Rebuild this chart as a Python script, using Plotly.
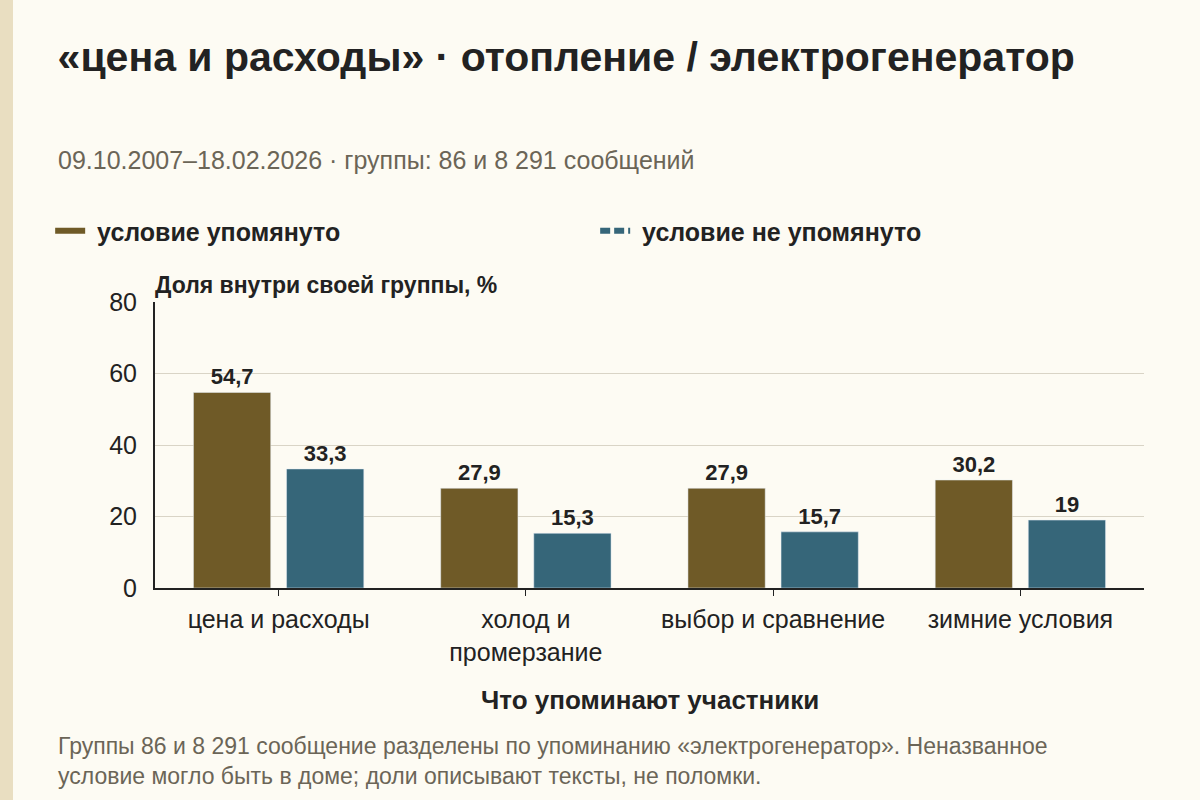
import plotly.graph_objects as go

# данные с графика
categories = ["цена и расходы", "холод и<br>промерзание", "выбор и сравнение", "зимние условия"]
mentioned = [54.7, 27.9, 27.9, 30.2]
not_mentioned = [33.3, 15.3, 15.7, 19.0]
series_names = ["условие упомянуто", "условие не упомянуто"]
y_ticks = [0, 20, 40, 60, 80]

GOLD = "#6f5a27"
BLUE = "#366679"
BG = "#fdfbf3"
DARK = "#222222"
GREY = "#6b6557"
FONT = "Liberation Sans, Arial, sans-serif"


def fmt(v):
    return ("%g" % v).replace(".", ",")


fig = go.Figure()

fig.add_trace(go.Bar(
    x=categories, y=mentioned, name=series_names[0], marker_color=GOLD,
    text=[fmt(v) for v in mentioned], textposition="outside",
    textfont=dict(size=22, color=DARK, family=FONT, weight="bold"),
    cliponaxis=False, showlegend=False
))
fig.add_trace(go.Bar(
    x=categories, y=not_mentioned, name=series_names[1], marker_color=BLUE,
    text=[fmt(v) for v in not_mentioned], textposition="outside",
    textfont=dict(size=22, color=DARK, family=FONT, weight="bold"),
    cliponaxis=False, showlegend=False
))

# legend entries drawn as short lines, like in the original
# (a leading nbsp gives the wider gap between sample and text)
fig.add_trace(go.Scatter(x=[None], y=[None], mode="lines", name="\u00a0" + series_names[0],
                         line=dict(color=GOLD, width=6)))
fig.add_trace(go.Scatter(x=[None], y=[None], mode="lines", name="\u00a0" + series_names[1],
                         line=dict(color=BLUE, width=6, dash="10px,4px")))

fig.update_layout(
    width=1200, height=800,
    paper_bgcolor=BG, plot_bgcolor=BG,
    font=dict(family=FONT, color=DARK, size=25),
    margin=dict(l=155, r=56, t=302, b=212),
    barmode="group", bargap=0.247, bargroupgap=0.17,
    title=dict(text="<b>«цена и расходы» · отопление / электрогенератор</b>",
               x=0.048, xanchor="left", y=1 - 57 / 800, yanchor="middle",
               font=dict(size=41, color=DARK, family=FONT)),
    legend=dict(orientation="h", x=-0.106, xanchor="left", y=1.248, yanchor="middle",
                entrywidth=500,
                font=dict(size=25, color=DARK, family=FONT, weight="bold"),
                bgcolor="rgba(0,0,0,0)"),
    separators=", ",
    showlegend=True,
)

fig.update_xaxes(showline=True, linecolor=DARK, linewidth=2,
                 ticks="outside", ticklen=6, tickcolor=DARK, tickwidth=1,
                 tickfont=dict(size=25, color=DARK), showgrid=False, ticklabelstandoff=2)
fig.update_yaxes(range=[0, 80], tickvals=y_ticks, showline=True, linecolor=DARK, linewidth=2,
                 gridcolor="#d9d4c6", gridwidth=1, zeroline=False,
                 tickfont=dict(size=25, color=DARK), ticks="", ticklabelstandoff=11)

# левая полоса
fig.add_shape(type="rect", xref="paper", yref="paper",
              x0=-155 / 989, x1=-142 / 989, y0=-212 / 286, y1=1 + 302 / 286,
              fillcolor="#e9dec1", line_width=0, layer="below")

fig.add_annotation(text="09.10.2007–18.02.2026 · группы: 86 и 8 291 сообщений",
                   xref="paper", yref="paper", x=-99 / 989, y=(588 - 160) / 286,
                   xanchor="left", yanchor="middle", showarrow=False,
                   font=dict(size=25, color=GREY))
fig.add_annotation(text="<b>Доля внутри своей группы, %</b>",
                   xref="paper", yref="paper", x=-2 / 989, y=(588 - 285) / 286,
                   xanchor="left", yanchor="middle", showarrow=False,
                   font=dict(size=23, color=DARK))
fig.add_annotation(text="<b>Что упоминают участники</b>",
                   xref="paper", yref="paper", x=0.5, y=(588 - 700) / 286,
                   xanchor="center", yanchor="middle", showarrow=False,
                   font=dict(size=26, color=DARK))
fig.add_annotation(text="Группы 86 и 8 291 сообщение разделены по упоминанию «электрогенератор». Неназванное<br>"
                        "условие могло быть в доме; доли описывают тексты, не поломки.",
                   xref="paper", yref="paper", x=-99 / 989, y=(588 - 760.5) / 286,
                   xanchor="left", yanchor="middle", align="left", showarrow=False,
                   font=dict(size=23, color=GREY))

fig.write_html("out.html", config={"displayModeBar": False},
               post_script="document.body.style.margin='0';")
